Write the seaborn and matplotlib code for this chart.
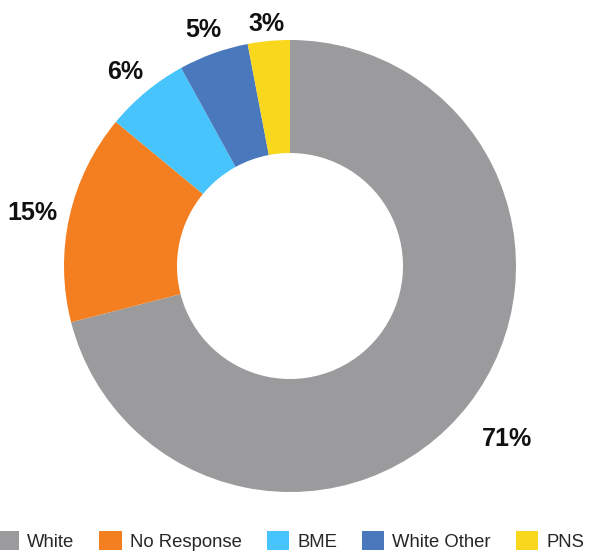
import matplotlib
matplotlib.use("Agg")
import matplotlib.pyplot as plt
from matplotlib.patches import Patch
import numpy as np
import seaborn as sns

# data
categories = ["White", "No Response", "BME", "White Other", "PNS"]
shares = [71, 15, 6, 5, 3]
colors = ["#9B9B9D", "#F47F20", "#47C4FB", "#4A78BC", "#F9D71C"]

# how far out each percentage label sits (in radii)
label_radius = [1.215, 1.17, 1.145, 1.135, 1.097]
label_drop = 5 / 226  # small downward nudge so glyphs sit like the original

sns.set_theme(style="white")
plt.rcParams["font.family"] = ["Liberation Sans", "DejaVu Sans"]

fig = plt.figure(figsize=(5.91, 5.54), dpi=100)
ax = fig.add_axes([0, 0, 1, 1])

wedges, _, pct_texts = ax.pie(
    shares,
    colors=colors,
    startangle=90,
    counterclock=False,
    radius=1.0,
    wedgeprops=dict(width=0.5, linewidth=0),
    autopct=lambda p: f"{p:.0f}%",
    pctdistance=1.15,
    textprops=dict(fontsize=18, fontweight="bold", color="#111111"),
)

# push each label out to its own radius along the wedge's middle angle
for w, t, r in zip(wedges, pct_texts, label_radius):
    mid = np.deg2rad((w.theta1 + w.theta2) / 2)
    t.set_position((r * np.cos(mid), r * np.sin(mid) - label_drop))
    t.set_va("center")

# place the donut: centre at (290, 266) px, radius 226 px
ax.set_xlim(-290 / 226, (591 - 290) / 226)
ax.set_ylim(-(554 - 266) / 226, 266 / 226)
ax.set_aspect("auto")
ax.axis("off")

handles = [Patch(facecolor=c, edgecolor="none") for c in colors]
fig.legend(
    handles, categories,
    loc="center", bbox_to_anchor=(0.4915, 1 - 541 / 554),
    ncol=5, frameon=False, fontsize=13.3,
    handlelength=1.2, handleheight=1.2, handletextpad=0.45,
    columnspacing=1.35, borderaxespad=0, borderpad=0,
)

fig.savefig("out.png", dpi=100, facecolor="white")
